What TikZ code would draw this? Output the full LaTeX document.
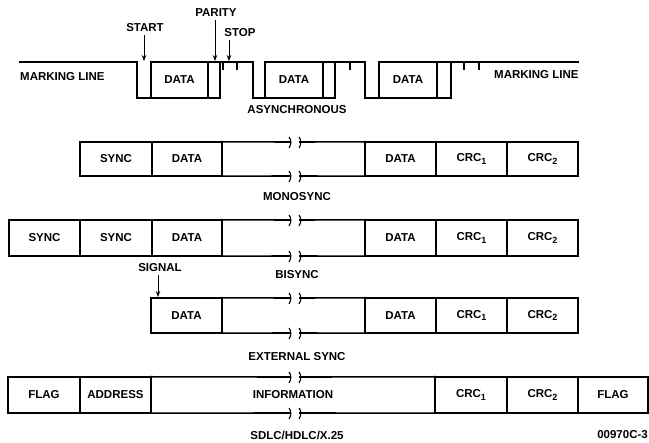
\documentclass[tikz,border=0pt]{standalone}
\usepackage{fontspec}
\setmainfont{Liberation Sans}
\usetikzlibrary{arrows.meta}
\tikzset{
  lbl/.style={font=\bfseries\fontsize{11.5}{13}\selectfont, inner sep=0pt, text=black},
  wire/.style={line width=1.6pt, line cap=rect},
  cell/.style={draw, line width=1.6pt, lbl},
  opencell/.style={lbl},
  brkmark/.style={line width=1.1pt},
  tickmark/.style={line width=1.5pt},
  pointer/.style={line width=0.9pt, -{Stealth[length=6pt,width=4.5pt]}},
}
\newcommand\fcell[6]{\node[cell, minimum width={#3pt-#2pt}, minimum height={#5pt-#4pt}] (#1) at ({(#2+#3)/2},{(#4+#5)/2}) {#6};}
\newcommand\ocell[6]{\node[opencell, minimum width={#3pt-#2pt}, minimum height={#5pt-#4pt}] (#1) at ({(#2+#3)/2},{(#4+#5)/2}) {#6};}
\newcommand\brkline[3]{%
  \draw[wire] (#1.north west) -- (290,#2) (300,#2) -- (#1.north east)
              (#1.south west) -- (290,#3) (300,#3) -- (#1.south east);
  \foreach \bx in {290,300} {
    \draw[brkmark] (\bx-1,#2-5) .. controls (\bx+1.5,#2-2) and (\bx+1.5,#2+2) .. (\bx-1,#2+6);
    \draw[brkmark] (\bx-1,#3-5) .. controls (\bx+1.5,#3-2) and (\bx+1.5,#3+2) .. (\bx-1,#3+6);
  }}
\newcommand\crc[1]{CRC\raisebox{-0.35ex}{\fontsize{9}{9}\selectfont #1}}
\begin{document}
\begin{tikzpicture}[x=1pt,y=-1pt]
\useasboundingbox (0,0) rectangle (649,443);

% ---------------- Asynchronous ----------------
\draw[wire] (20,62) -- (137,62) -- (137,98) -- (220,98) -- (220,62);
\draw[wire] (151,98) -- (151,62) -- (253,62) -- (253,98) -- (335,98) -- (335,62);
\draw[wire] (208,62) -- (208,98);
\draw[wire] (265,98) -- (265,62) -- (365,62) -- (365,98) -- (451,98) -- (451,62);
\draw[wire] (323,62) -- (323,98);
\draw[wire] (379,98) -- (379,62) -- (578,62);
\draw[wire] (437,62) -- (437,98);
\foreach \tx in {223,237,350,464,479} \draw[tickmark] (\tx,62) -- (\tx,70);

\node[lbl] (ad1) at (179.5,80) {DATA};
\node[lbl] (ad2) at (294,80) {DATA};
\node[lbl] (ad3) at (408,80) {DATA};
\node[lbl, anchor=west] (ml1) at (20,77) {MARKING LINE};
\node[lbl, anchor=west] (ml2) at (494,75) {MARKING LINE};
\node[lbl] (async) at (297,110) {ASYNCHRONOUS};

\node[lbl] (start) at (145,28) {START};
\node[lbl] (parity) at (216,13) {PARITY};
\node[lbl] (stop) at (240,33) {STOP};
\coordinate (startpt) at (144,61);
\coordinate (paritypt) at (215,61);
\coordinate (stoppt) at (229,61);
\draw[pointer] (startpt |- start.south) ++(0,3) -- (startpt);
\draw[pointer] (paritypt |- parity.south) ++(0,3) -- (paritypt);
\draw[pointer] (stoppt |- stop.south) ++(0,3) -- (stoppt);

% ---------------- Monosync ----------------
\fcell{m1}{80}{152}{142}{176}{SYNC}
\fcell{m2}{152}{222}{142}{176}{DATA}
\ocell{m3}{222}{365}{142}{176}{}
\brkline{m3}{142}{176}
\fcell{m4}{365}{436}{142}{176}{DATA}
\fcell{m5}{436}{507}{142}{176}{\crc{1}}
\fcell{m6}{507}{578}{142}{176}{\crc{2}}
\node[lbl] (mono) at (297,197) {MONOSYNC};

% ---------------- Bisync ----------------
\fcell{b0}{9}{80}{220}{256}{SYNC}
\fcell{b1}{80}{152}{220}{256}{SYNC}
\fcell{b2}{152}{222}{220}{256}{DATA}
\ocell{b3}{222}{365}{220}{256}{}
\brkline{b3}{220}{256}
\fcell{b4}{365}{436}{220}{256}{DATA}
\fcell{b5}{436}{507}{220}{256}{\crc{1}}
\fcell{b6}{507}{578}{220}{256}{\crc{2}}
\node[lbl] (bisync) at (297,275) {BISYNC};

% ---------------- External sync ----------------
\node[lbl] (signal) at (160,268) {SIGNAL};
\fcell{e2}{151}{222}{298}{333}{DATA}
\ocell{e3}{222}{365}{298}{333}{}
\brkline{e3}{298}{333}
\fcell{e4}{365}{436}{298}{333}{DATA}
\fcell{e5}{436}{507}{298}{333}{\crc{1}}
\fcell{e6}{507}{578}{298}{333}{\crc{2}}
\coordinate (sigpt) at (158,297);
\draw[pointer] (sigpt |- signal.south) ++(0,3) -- (sigpt);
\node[lbl] (ext) at (297,357) {EXTERNAL SYNC};

% ---------------- SDLC ----------------
\fcell{s0}{8}{80}{377}{413}{FLAG}
\fcell{s1}{80}{151}{377}{413}{ADDRESS}
\ocell{s2}{151}{435}{377}{413}{INFORMATION}
\brkline{s2}{377}{413}
\fcell{s3}{435}{507}{377}{413}{\crc{1}}
\fcell{s4}{507}{578}{377}{413}{\crc{2}}
\fcell{s5}{578}{648}{377}{413}{FLAG}
\node[lbl] (sdlc) at (297,435) {SDLC/HDLC/X.25};
\node[lbl, anchor=east] (fig) at (648,435) {00970C-3};
\end{tikzpicture}
\end{document}
